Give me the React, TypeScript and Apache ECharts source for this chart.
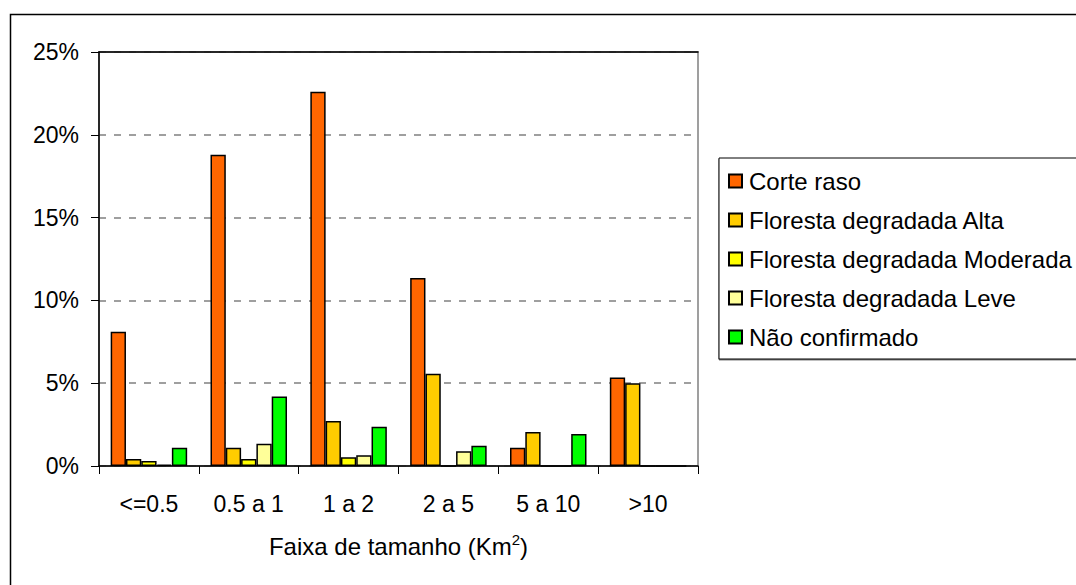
import React, { useEffect, useRef } from "react";
import * as echarts from "echarts";

const categories = ["<=0.5", "0.5 a 1", "1 a 2", "2 a 5", "5 a 10", ">10"];
const seriesNames = [
  "Corte raso",
  "Floresta degradada Alta",
  "Floresta degradada Moderada",
  "Floresta degradada Leve",
  "Não confirmado",
];
const corteRaso = [8.1, 18.8, 22.6, 11.35, 1.1, 5.35];
const degAlta = [0.42, 1.1, 2.72, 5.57, 2.05, 5.0];
const degModerada = [0.3, 0.42, 0.53, 0, 0, 0];
const degLeve = [0.08, 1.35, 0.65, 0.89, 0, 0];
const naoConfirmado = [1.1, 4.2, 2.37, 1.23, 1.93, 0];
const colors = ["#FF6600", "#FFCC00", "#FFFF00", "#FFFF99", "#00FF00"];
const yTicks = { min: 0, max: 25, interval: 5 };

const FONT = "'Liberation Sans', Arial, sans-serif";

export default function App() {
  const ref = useRef<HTMLDivElement>(null);
  useEffect(() => {
    if (!ref.current) return;
    const chart = echarts.init(ref.current, null, { renderer: "svg" });
    const dataSets = [corteRaso, degAlta, degModerada, degLeve, naoConfirmado];
    chart.setOption({
      animation: false,
      backgroundColor: "#ffffff",
      textStyle: { fontFamily: FONT },
      grid: {
        left: 99,
        top: 52,
        width: 599,
        height: 414,
        containLabel: false,
        show: true,
        borderColor: "#808080",
        borderWidth: 1.5,
      },
      legend: {
        orient: "vertical",
        left: 719,
        top: 158,
        padding: [11, 80, 10, 9],
        itemGap: 15,
        itemWidth: 13,
        itemHeight: 13,
        icon: "rect",
        borderColor: "#000",
        borderWidth: 1,
        backgroundColor: "#fff",
        shadowColor: "rgba(0,0,0,0.5)",
        shadowOffsetY: 1,
        textStyle: { fontSize: 24, color: "#000", fontFamily: FONT, padding: [0, 0, 0, 2] },
        data: seriesNames,
      },
      xAxis: [
        {
          type: "category",
          data: categories,
          position: "bottom",
          axisLine: { lineStyle: { color: "#000", width: 1.5 } },
          axisTick: { show: true, length: 8, lineStyle: { color: "#000" } },
          axisLabel: { fontSize: 23, color: "#000", margin: 26, fontFamily: FONT },
          name: "Faixa de tamanho (Km{sup|2})",
          nameLocation: "middle",
          nameGap: 66,
          nameTextStyle: {
            fontSize: 24,
            color: "#000",
            fontFamily: FONT,
            rich: {
              sup: {
                fontSize: 15,
                verticalAlign: "top",
                color: "#000",
                fontFamily: FONT,
                padding: [0, 0, 14, 0],
              },
            },
          },
        },
        {
          type: "category",
          data: categories,
          position: "top",
          axisLine: { show: true, lineStyle: { color: "#000", width: 1.5 } },
          axisTick: { show: false },
          axisLabel: { show: false },
        },
      ],
      yAxis: {
        type: "value",
        min: yTicks.min,
        max: yTicks.max,
        interval: yTicks.interval,
        axisLine: { show: true, lineStyle: { color: "#000", width: 1.5 } },
        axisTick: { show: true, length: 8, lineStyle: { color: "#000" } },
        axisLabel: { fontSize: 23, color: "#000", margin: 20, formatter: "{value}%", fontFamily: FONT },
        splitLine: {
          show: true,
          lineStyle: { color: "#808080", type: [7, 8], width: 1.5 },
        },
      },
      graphic: [
        {
          type: "rect",
          left: 8,
          top: 12,
          shape: { width: 1200, height: 700 },
          style: { fill: "none", stroke: "#000", lineWidth: 1.5 },
          silent: true,
          z: -1,
        },
      ],
      series: dataSets.map((d, i) => ({
        name: seriesNames[i],
        type: "bar",
        data: d,
        barWidth: 15.3,
        barGap: "0%",
        itemStyle: { color: colors[i], borderColor: "#000", borderWidth: 1.5 },
      })),
    });
    return () => chart.dispose();
  }, []);
  return (
    <div
      ref={ref}
      style={{ position: "absolute", left: 0, top: 0, width: 1076, height: 585 }}
    />
  );
}
